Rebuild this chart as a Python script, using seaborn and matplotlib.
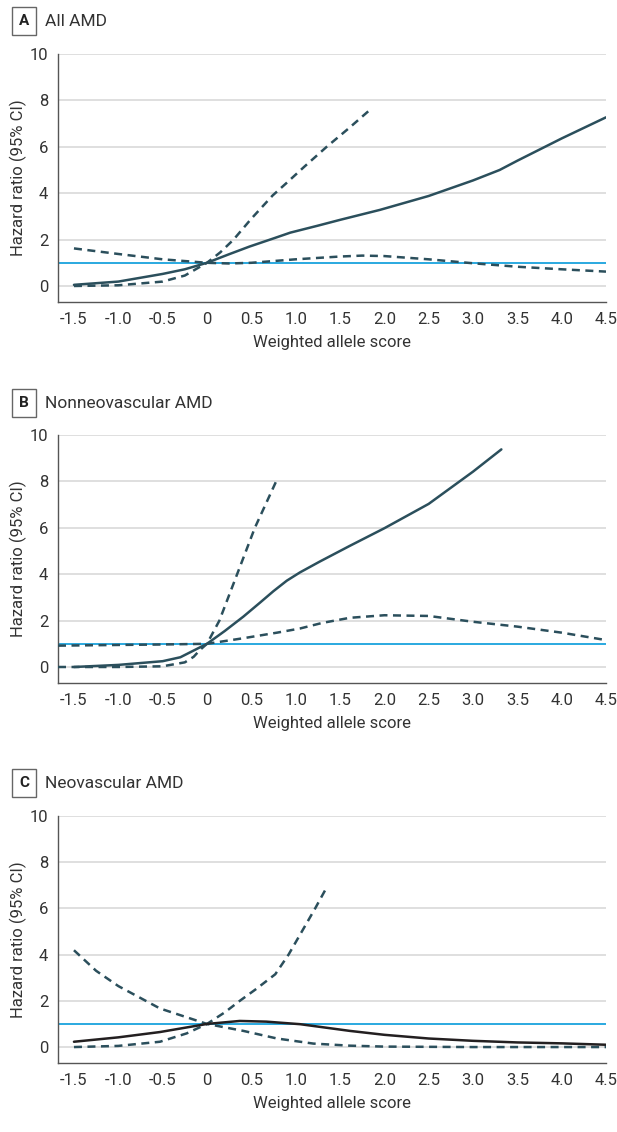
import numpy as np
import pandas as pd
import matplotlib
matplotlib.use("Agg")
import matplotlib.pyplot as plt
import seaborn as sns

sns.set_style("white")
plt.rcParams['font.family'] = ['Roboto', 'DejaVu Sans']
plt.rcParams['axes.unicode_minus'] = False

# ---------------- data ----------------
panel_letters = ["A", "B", "C"]
panel_titles = ["All AMD", "Nonneovascular AMD", "Neovascular AMD"]

# Panel A
a_hr_x = [-1.5, -1.0, -0.5, -0.25, 0, 0.25, 0.48, 0.75, 0.94, 1.25, 1.5, 1.95, 2.5, 3.0, 3.3, 3.5, 4.0, 4.5]
a_hr_y = [0.05, 0.19, 0.52, 0.72, 1.0, 1.37, 1.7, 2.05, 2.3, 2.6, 2.85, 3.28, 3.88, 4.55, 5.0, 5.4, 6.36, 7.27]
a_up_x = [-1.5, -1.0, -0.5, -0.25, 0, 0.15, 0.3, 0.5, 0.74, 0.9, 1.1, 1.35, 1.6, 1.84]
a_up_y = [0.0, 0.03, 0.19, 0.45, 1.0, 1.45, 2.0, 2.9, 3.9, 4.45, 5.15, 6.0, 6.8, 7.6]
a_lo_x = [-1.5, -1.0, -0.5, 0, 0.25, 0.5, 1.0, 1.5, 1.75, 2.0, 2.5, 3.0, 3.5, 4.0, 4.5]
a_lo_y = [1.62, 1.38, 1.15, 1.0, 0.97, 1.0, 1.15, 1.27, 1.31, 1.29, 1.15, 0.98, 0.83, 0.72, 0.62]

# Panel B
b_hr_x = [-1.5, -1.0, -0.5, -0.3, 0, 0.2, 0.41, 0.6, 0.75, 0.9, 1.05, 1.27, 1.61, 2.0, 2.5, 3.0, 3.32]
b_hr_y = [0.0, 0.09, 0.25, 0.42, 1.0, 1.55, 2.17, 2.78, 3.27, 3.72, 4.08, 4.54, 5.22, 5.98, 7.03, 8.42, 9.38]
b_up_x = [-1.68, -1.5, -1.0, -0.5, -0.25, -0.15, -0.08, 0, 0.14, 0.34, 0.54, 0.78]
b_up_y = [0.0, 0.0, 0.0, 0.03, 0.2, 0.44, 0.73, 1.0, 2.0, 4.0, 6.0, 8.0]
b_lo_x = [-1.68, -1.0, -0.5, 0, 0.41, 0.79, 1.05, 1.3, 1.61, 2.0, 2.5, 3.0, 3.5, 4.0, 4.5]
b_lo_y = [0.92, 0.95, 0.97, 1.0, 1.24, 1.48, 1.66, 1.9, 2.12, 2.23, 2.2, 1.95, 1.74, 1.48, 1.16]

# Panel C
c_hr_x = [-1.5, -1.0, -0.53, 0, 0.37, 0.67, 1.05, 1.61, 2.0, 2.5, 3.0, 3.5, 4.0, 4.5]
c_hr_y = [0.23, 0.42, 0.65, 1.0, 1.13, 1.1, 0.99, 0.7, 0.53, 0.37, 0.27, 0.2, 0.16, 0.1]
c_up_x = [-1.5, -1.0, -0.53, -0.23, 0, 0.2, 0.37, 0.55, 0.77, 0.92, 1.07, 1.22, 1.35]
c_up_y = [0.0, 0.05, 0.23, 0.59, 1.0, 1.5, 2.0, 2.5, 3.15, 4.0, 5.0, 6.0, 6.91]
c_lo_x = [-1.5, -1.25, -1.0, -0.53, 0, 0.41, 0.79, 1.2, 1.61, 2.0, 3.0, 4.0, 4.5]
c_lo_y = [4.19, 3.3, 2.64, 1.67, 1.0, 0.7, 0.37, 0.15, 0.06, 0.02, 0.0, 0.0, 0.0]

x_ticks = [-1.5, -1.0, -0.5, 0, 0.5, 1.0, 1.5, 2.0, 2.5, 3.0, 3.5, 4.0, 4.5]
x_tick_labels = ["-1.5", "-1.0", "-0.5", "0", "0.5", "1.0", "1.5", "2.0", "2.5", "3.0", "3.5", "4.0", "4.5"]
y_ticks = [0, 2, 4, 6, 8, 10]
ref_value = 1.0

panels = [
    (a_hr_x, a_hr_y, a_up_x, a_up_y, a_lo_x, a_lo_y, "#2b4f5c"),
    (b_hr_x, b_hr_y, b_up_x, b_up_y, b_lo_x, b_lo_y, "#2b4f5c"),
    (c_hr_x, c_hr_y, c_up_x, c_up_y, c_lo_x, c_lo_y, "#231f20"),
]

W, H = 617, 1132
fig = plt.figure(figsize=(W / 100, H / 100), dpi=100)

boxes = [(54, 302), (435, 683), (816, 1063)]
left_px, right_px = 58, 606
title_y = [21, 403, 783]

dash_color = "#2b4f5c"
for i, (top, bot) in enumerate(boxes):
    ax = fig.add_axes([left_px / W, 1 - bot / H, (right_px - left_px) / W, (bot - top) / H])
    hx, hy, ux, uy, lx, ly, hcol = panels[i]
    for yv in y_ticks:
        ax.axhline(yv, color="#dcdcdc", lw=1.3, zorder=0)
    ax.axhline(ref_value, color="#2aa9e0", lw=1.4, zorder=1)
    sns.lineplot(x=lx, y=ly, ax=ax, color=dash_color, lw=1.8, linestyle=(0, (3.2, 2.2)), estimator=None, zorder=3)
    sns.lineplot(x=ux, y=uy, ax=ax, color=dash_color, lw=1.8, linestyle=(0, (3.2, 2.2)), estimator=None, zorder=3)
    sns.lineplot(x=hx, y=hy, ax=ax, color=hcol, lw=1.8, estimator=None, zorder=4)
    ax.set_xlim(-1.68, 4.5)
    ax.set_ylim(-0.69, 10)
    ax.set_xticks(x_ticks)
    ax.set_xticklabels(x_tick_labels)
    ax.set_yticks(y_ticks)
    ax.set_yticklabels([str(v) for v in y_ticks])
    for s in ["top", "right"]:
        ax.spines[s].set_visible(False)
    for s in ["left", "bottom"]:
        ax.spines[s].set_color("#555555")
        ax.spines[s].set_linewidth(1.0)
    ax.tick_params(axis="both", direction="out", length=4, width=1, color="#555555",
                   labelsize=12, labelcolor="#333333", pad=3)
    ax.set_xlabel("Weighted allele score", fontsize=12, color="#333333", labelpad=6)
    ax.set_ylabel("Hazard ratio (95% CI)", fontsize=12, color="#333333", labelpad=2)
    ax.grid(False)

    fig.text(24 / W, 1 - title_y[i] / H, panel_letters[i], fontsize=11, fontweight="bold",
             ha="center", va="center", color="#222222",
             bbox=dict(boxstyle="square,pad=0.45", fc="white", ec="#666666", lw=1.0))
    fig.text(45 / W, 1 - title_y[i] / H, panel_titles[i], fontsize=12.5, ha="left", va="center",
             color="#333333")

fig.savefig("out.png", dpi=100)
